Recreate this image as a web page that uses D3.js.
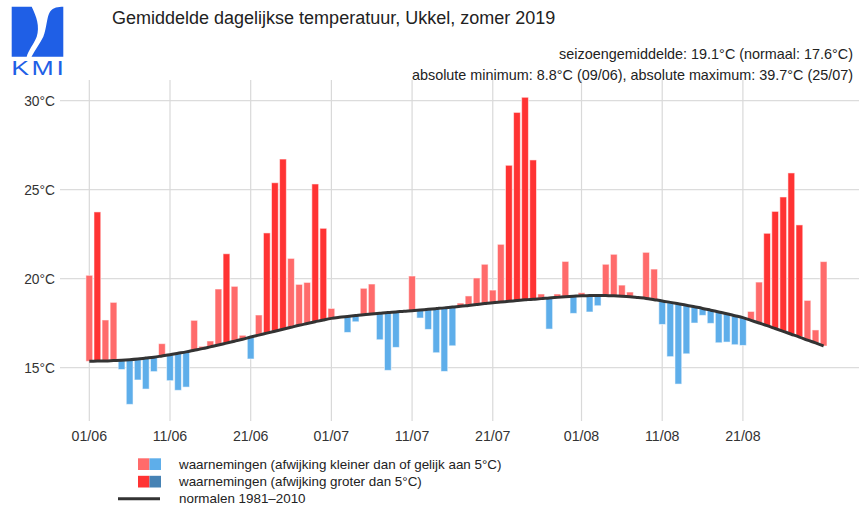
<!DOCTYPE html>
<html>
<head>
<meta charset="utf-8">
<script src="https://cdn.jsdelivr.net/npm/d3@7"></script>
<style>
  body { margin: 0; background: #fff; }
  svg { font-family: "Liberation Sans", Arial, sans-serif; }
</style>
</head>
<body>
<svg id="chart" width="859" height="510"></svg>
<script>
// daily mean temperature, Uccle, summer 2019
var obsJun = [20.19, 23.75, 17.68, 18.67, 14.90, 12.94, 14.31, 13.80, 14.78, 16.35,
              14.27, 13.73, 13.91, 17.66, 16.20, 16.50, 19.42, 21.40, 19.57, 16.82,
              15.49, 17.96, 22.57, 25.39, 26.72, 21.14, 19.68, 19.79, 25.32, 22.83];
var obsJul = [18.33, 17.85, 16.98, 17.58, 19.46, 19.70, 16.57, 14.85, 16.14, 18.24,
              20.15, 17.79, 17.15, 15.84, 14.79, 16.23, 18.63, 19.03, 20.04, 20.81,
              19.36, 21.93, 26.37, 29.34, 30.19, 26.67, 19.14, 17.17, 19.14, 20.97, 18.05];
var obsAug = [19.21, 18.13, 18.48, 20.81, 21.37, 19.64, 19.25, 18.95, 21.48, 20.54,
              17.43, 15.62, 14.08, 15.78, 17.51, 17.94, 17.49, 16.40, 16.44, 16.29,
              16.25, 18.16, 19.81, 22.55, 23.78, 24.59, 25.94, 23.02, 18.78, 17.12, 20.96];

// normals 1981-2010
var normJun = [15.36, 15.37, 15.38, 15.40, 15.42, 15.45, 15.49, 15.54, 15.59, 15.66,
               15.73, 15.81, 15.89, 15.98, 16.07, 16.17, 16.27, 16.38, 16.49, 16.60,
               16.72, 16.83, 16.94, 17.05, 17.16, 17.27, 17.38, 17.48, 17.58, 17.68];
var normJul = [17.77, 17.83, 17.88, 17.93, 17.98, 18.02, 18.06, 18.10, 18.13, 18.17,
               18.20, 18.24, 18.28, 18.32, 18.36, 18.41, 18.45, 18.50, 18.55, 18.60,
               18.65, 18.69, 18.73, 18.77, 18.81, 18.85, 18.88, 18.92, 18.95, 18.98, 19.01];
var normAug = [19.04, 19.05, 19.06, 19.05, 19.04, 19.02, 18.99, 18.94, 18.89, 18.82,
               18.75, 18.67, 18.59, 18.51, 18.42, 18.33, 18.23, 18.13, 18.03, 17.92,
               17.81, 17.66, 17.51, 17.36, 17.20, 17.04, 16.88, 16.72, 16.55, 16.39, 16.22];

var months = [5, 6, 7]; // juni, juli, augustus (0-based)
var tickLabels = ["01/06", "11/06", "21/06", "01/07", "11/07", "21/07", "01/08", "11/08", "21/08"];
var yTicks = [15, 20, 25, 30];

var legendLabels = [
  "waarnemingen (afwijking kleiner dan of gelijk aan 5°C)",
  "waarnemingen (afwijking groter dan 5°C)",
  "normalen 1981\u20132010"
];

var colLightRed = "#ff6b6b", colRed = "#ff3333",
    colLightBlue = "#5eaeea", colBlue = "#4682b4";

// build the daily table
var data = [];
[obsJun, obsJul, obsAug].forEach(function(arr, m) {
  arr.forEach(function(v, i) {
    var norms = [normJun, normJul, normAug][m];
    data.push({ date: new Date(2019, months[m], i + 1), obs: v, norm: norms[i] });
  });
});

var svg = d3.select("#chart");

var x = d3.scaleTime()
    .domain([new Date(2019, 5, 1), new Date(2019, 7, 31)])
    .range([89.3, 823.6]);

var y = d3.scaleLinear()
    .domain([12, 31.2])
    .range([421.1, 79.3]);

var step = x(new Date(2019, 5, 2)) - x(new Date(2019, 5, 1));

var parseTick = d3.timeParse("%d/%m/%Y");
var tickDates = tickLabels.map(function(t) { return parseTick(t + "/2019"); });

// grid
svg.append("g").selectAll("line")
    .data(yTicks)
  .enter().append("line")
    .attr("x1", 60).attr("x2", 859)
    .attr("y1", function(d) { return y(d); })
    .attr("y2", function(d) { return y(d); })
    .attr("stroke", "#dcdcdc")
    .attr("stroke-width", 1.2);

svg.append("g").selectAll("line")
    .data(tickDates)
  .enter().append("line")
    .attr("x1", function(d) { return x(d); })
    .attr("x2", function(d) { return x(d); })
    .attr("y1", 80).attr("y2", 421)
    .attr("stroke", "#d9d9d9")
    .attr("stroke-width", 1.2);

// axis labels
svg.append("g").selectAll("text")
    .data(yTicks)
  .enter().append("text")
    .attr("x", 55)
    .attr("y", function(d) { return y(d) + 5; })
    .attr("text-anchor", "end")
    .style("font-size", "13.8px")
    .style("fill", "#333")
    .text(function(d) { return d + "°C"; });

svg.append("g").selectAll("text")
    .data(tickDates)
  .enter().append("text")
    .attr("x", function(d) { return x(d); })
    .attr("y", 441)
    .attr("text-anchor", "middle")
    .style("font-size", "14.2px")
    .style("fill", "#333")
    .text(function(d, i) { return tickLabels[i]; });

// bars from normal to observation
function barColor(d) {
  var dev = d.obs - d.norm;
  if (dev >= 0) return dev > 5 ? colRed : colLightRed;
  return dev < -5 ? colBlue : colLightBlue;
}

svg.append("g").selectAll("rect")
    .data(data.filter(function(d) { return Math.abs(y(d.obs) - y(d.norm)) > 0.5; }))
  .enter().append("rect")
    .attr("x", function(d) { return x(d.date) - step * 0.42; })
    .attr("width", step * 0.84)
    .attr("y", function(d) { return Math.min(y(d.obs), y(d.norm)); })
    .attr("height", function(d) { return Math.abs(y(d.obs) - y(d.norm)); })
    .attr("fill", barColor)
    .attr("stroke", "#fff")
    .attr("stroke-opacity", 0.55)
    .attr("stroke-width", 1);

// normal line
var line = d3.line()
    .x(function(d) { return x(d.date); })
    .y(function(d) { return y(d.norm); })
    .curve(d3.curveMonotoneX);

svg.append("path")
    .datum(data)
    .attr("d", line)
    .attr("fill", "none")
    .attr("stroke", "#333")
    .attr("stroke-width", 3);

// titles
svg.append("text")
    .attr("x", 112).attr("y", 24)
    .style("font-size", "18px")
    .style("fill", "#222")
    .text("Gemiddelde dagelijkse temperatuur, Ukkel, zomer 2019");

svg.append("text")
    .attr("x", 853).attr("y", 59)
    .attr("text-anchor", "end")
    .style("font-size", "14.4px")
    .style("fill", "#222")
    .text("seizoengemiddelde: 19.1°C (normaal: 17.6°C)");

svg.append("text")
    .attr("x", 853).attr("y", 80)
    .attr("text-anchor", "end")
    .style("font-size", "14.4px")
    .style("fill", "#222")
    .text("absolute minimum: 8.8°C (09/06), absolute maximum: 39.7°C (25/07)");

// KMI logo
var logo = svg.append("g").attr("fill", "#1f5fe6");
logo.append("path")
    .attr("d", "M11.7,6.7 L31.7,6.7 C36.5,16.5 40,26.5 36.7,36.7 C33.3,45 28.5,50 26.7,56.7 L11.7,56.7 Z");
logo.append("path")
    .attr("d", "M63.3,6.7 L63.3,56.7 L31.5,56.7 C35,50 40,43.3 43.3,36.7 C46.7,28.3 46.7,16.7 50,11.7 C53.3,7.3 58.3,6.7 63.3,6.7 Z");
logo.append("text")
    .attr("transform", "translate(11.2,75) scale(1.3,1)")
    .attr("textLength", 40.5)
    .attr("lengthAdjust", "spacing")
    .style("font-size", "20.5px")
    .style("fill", "#1f5fe6")
    .text("KMI");

// legend
var lg = svg.append("g");
[[colLightRed, colLightBlue], [colRed, colBlue]].forEach(function(c, i) {
  lg.append("rect").attr("x", 138).attr("y", 458.3 + i * 17.5)
    .attr("width", 11.5).attr("height", 11.7).attr("fill", c[0]);
  lg.append("rect").attr("x", 149.5).attr("y", 458.3 + i * 17.5)
    .attr("width", 11.5).attr("height", 11.7).attr("fill", c[1]);
});
lg.append("line")
    .attr("x1", 118).attr("x2", 160)
    .attr("y1", 498.7).attr("y2", 498.7)
    .attr("stroke", "#333").attr("stroke-width", 3);

lg.selectAll("text")
    .data(legendLabels)
  .enter().append("text")
    .attr("x", 179)
    .attr("y", function(d, i) { return 469.3 + i * 17; })
    .style("font-size", "13.4px")
    .style("fill", "#222")
    .text(function(d) { return d; });
</script>
</body>
</html>
